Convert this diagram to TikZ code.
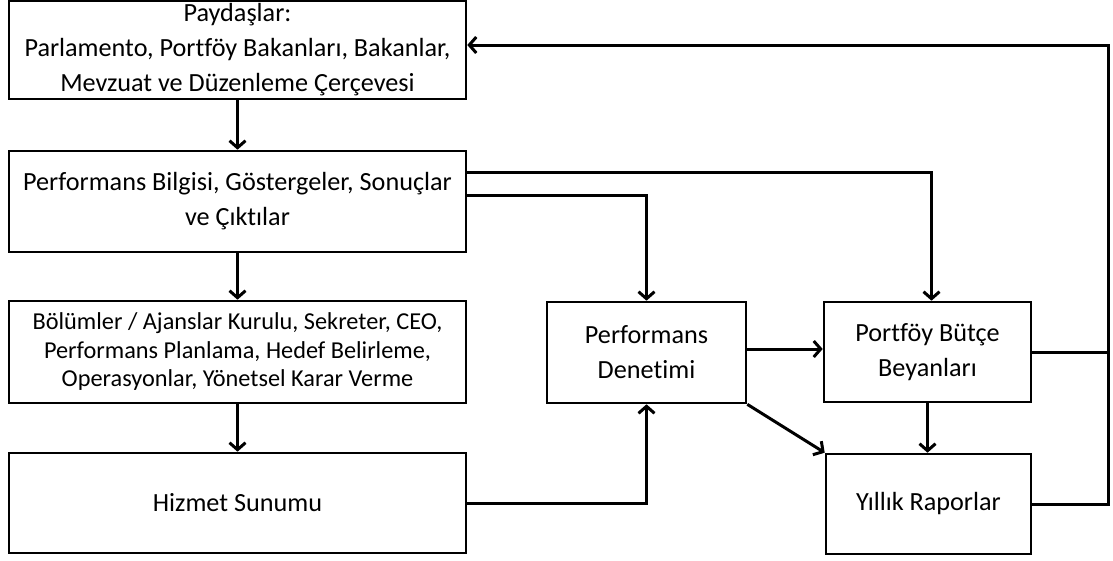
\documentclass[tikz,border=0pt]{standalone}
\usepackage{fontspec}
\setmainfont[Ligatures=NoCommon]{Carlito}
\usetikzlibrary{arrows.meta}
\begin{document}
\begin{tikzpicture}[x=1pt,y=-1pt,
  box/.style={draw,line width=2.6pt,rectangle,align=center,inner sep=0pt,font=\fontsize{26.2}{35}\selectfont},
  smallbox/.style={box,font=\fontsize{24.3}{28.5}\selectfont},
  conn/.style={line width=3pt},
  arr/.style={conn,-{Straight Barb[length=7pt,width=16pt]}}]
\useasboundingbox (0,0) rectangle (1113,560);
\node[box,minimum width=457pt,minimum height=98pt] (b1) at (237.5,50) {Paydaşlar:\\Parlamento, Portföy Bakanları, Bakanlar,\\Mevzuat ve Düzenleme Çerçevesi};
\node[box,minimum width=457pt,minimum height=101pt] (b2) at (237.5,201.5) {Performans Bilgisi, Göstergeler, Sonuçlar\\ve Çıktılar};
\node[smallbox,minimum width=457pt,minimum height=102pt] (b3) at (237.5,352) {Bölümler / Ajanslar Kurulu, Sekreter, CEO,\\Performans Planlama, Hedef Belirleme,\\Operasyonlar, Yönetsel Karar Verme};
\node[box,minimum width=457pt,minimum height=100pt] (b4) at (237.5,503) {Hizmet Sunumu};
\node[box,minimum width=199pt,minimum height=101pt] (b5) at (646.5,352.5) {Performans\\Denetimi};
\node[box,minimum width=207pt,minimum height=100pt] (b6) at (927.5,352) {Portföy Bütçe\\Beyanları};
\node[box,minimum width=205pt,minimum height=100pt] (b7) at (928.5,504) {Yıllık Raporlar};
\coordinate (c1) at (1108,45);
\draw[arr] (b1.south) -- (b2.north);
\draw[arr] (b2.south) -- (b3.north);
\draw[arr] (b3.south) -- (b4.north);
\draw[arr] (b4.east) -| (b5.south);
\draw[arr] (b2.east |- 0,172) -| ([xshift=4pt]b6.north);
\draw[arr] (b2.east |- 0,195) -| (b5.north);
\draw[arr] (b5.east |- 0,349) -- (b6.west |- 0,349);
\draw[arr] (b5.south east) -- (b7.north west);
\draw[arr] (b6.south) -- (b6.south |- b7.north);
\draw[conn] (b6.east) -- (b6.east -| c1);
\draw[arr] (b7.east) -| (c1) -- (c1 -| b1.east);
\end{tikzpicture}
\end{document}
